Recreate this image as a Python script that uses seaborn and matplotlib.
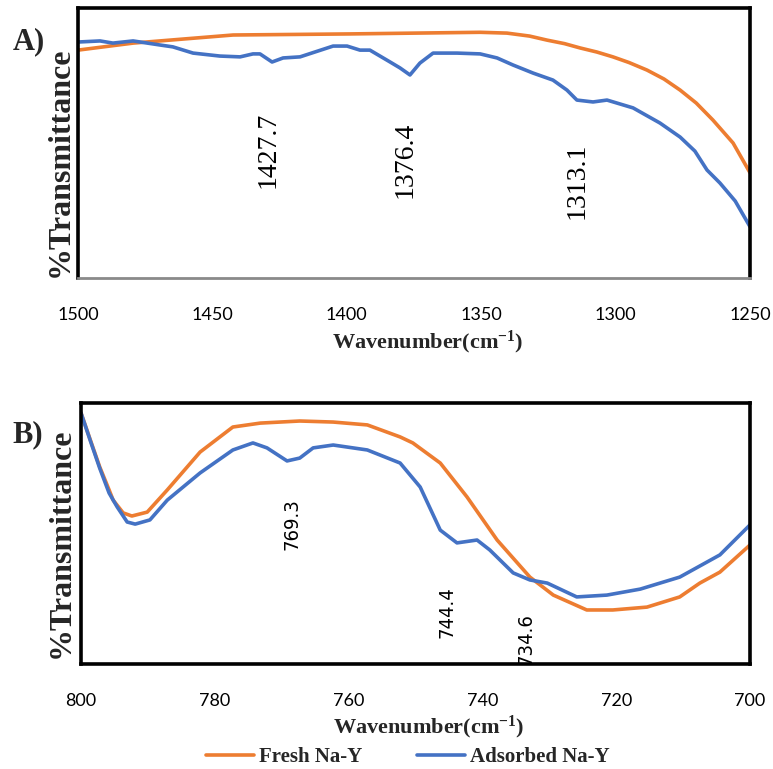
import matplotlib
matplotlib.use("Agg")
import matplotlib.pyplot as plt
from matplotlib import font_manager
import seaborn as sns
import pandas as pd

# ---------------- data ----------------
# Panel A (1500-1250 cm-1)
a_fresh_x = [1500, 1479.5, 1442.3, 1398.8, 1350.4, 1340.4, 1332.0, 1325.5, 1319.0, 1313.2,
             1307.0, 1301.0, 1295.0, 1288.3, 1282.0, 1276.0, 1270.0, 1263.8, 1256.3, 1250.0]
a_fresh_y = [84.4, 87.0, 90.0, 90.4, 91.0, 90.7, 89.6, 88.1, 86.8, 85.2,
             83.7, 81.9, 79.8, 77.0, 73.7, 69.6, 64.8, 58.5, 50.0, 39.0]
a_ads_x = [1500, 1491.8, 1487.0, 1479.5, 1469.5, 1464.7, 1457.2, 1447.2, 1439.7, 1434.9,
           1432.3, 1427.8, 1423.7, 1417.4, 1405.1, 1399.9, 1395.1, 1391.4, 1383.9, 1380.2,
           1376.5, 1372.8, 1367.9, 1359.0, 1350.4, 1344.1, 1338.2, 1330.7, 1323.3, 1318.1,
           1314.4, 1308.4, 1303.2, 1293.5, 1283.5, 1276.0, 1270.5, 1266.0, 1261.2, 1255.5, 1250.0]
a_ads_y = [87.4, 87.8, 87.0, 87.8, 86.3, 85.6, 83.3, 82.2, 81.9, 83.0,
           83.0, 80.0, 81.5, 81.9, 85.9, 85.9, 84.4, 84.4, 80.0, 77.8,
           75.2, 79.6, 83.3, 83.3, 83.0, 81.5, 78.9, 75.9, 73.3, 69.6,
           65.9, 65.2, 65.9, 63.0, 57.4, 52.2, 47.0, 40.0, 35.2, 28.5, 19.0]

# Panel B (800-700 cm-1)
b_fresh_x = [800, 798.6, 797.2, 795.8, 795.2, 793.7, 792.4, 790.1, 787.1, 782.2, 777.3, 773.2,
             767.3, 762.3, 757.2, 752.3, 750.4, 746.3, 742.3, 737.8, 732.9, 729.4, 724.4,
             720.5, 715.4, 710.5, 707.5, 704.5, 700.0]
b_fresh_y = [96.2, 85.8, 75.5, 66.7, 62.8, 57.9, 56.7, 58.2, 66.7, 81.2, 90.8, 92.3,
             93.1, 92.7, 91.6, 87.0, 84.7, 77.0, 64.0, 47.5, 33.3, 26.4, 20.7,
             20.7, 21.8, 25.7, 31.0, 35.2, 45.6]
b_ads_x = [800, 798.6, 797.2, 795.8, 794.6, 793.1, 791.9, 789.7, 787.1, 782.2, 777.3, 774.3,
           772.2, 769.2, 767.3, 765.3, 762.3, 757.2, 752.3, 749.3, 746.3, 743.8, 740.8,
           738.9, 735.4, 732.9, 730.3, 725.9, 721.4, 716.4, 710.5, 704.5, 700.0]
b_ads_y = [96.2, 85.5, 75.0, 65.5, 60.2, 54.4, 53.6, 55.2, 62.8, 73.2, 82.0, 84.7,
           82.8, 77.8, 78.9, 82.8, 83.9, 82.0, 77.0, 67.8, 51.3, 46.4, 47.5,
           43.7, 34.9, 32.2, 31.0, 25.7, 26.4, 28.7, 33.3, 41.8, 53.3]

series_names = ["Fresh Na-Y", "Adsorbed Na-Y"]
colors = {"Fresh Na-Y": "#ED7D31", "Adsorbed Na-Y": "#4472C4"}

a_ticks = [1500, 1450, 1400, 1350, 1300, 1250]
b_ticks = [800, 780, 760, 740, 720, 700]

a_peaks = [("1427.7", 1429.3, 47.4), ("1376.4", 1378.3, 43.7), ("1313.1", 1314.4, 35.9)]
b_peaks = [("769.3", 768.5, 53.6), ("744.4", 745.3, 19.9), ("734.6", 733.5, 9.6)]

# ---------------- style ----------------
sns.set_theme(style="white")
available = {f.name for f in font_manager.fontManager.ttflist}
serif = "Liberation Serif"
narrow = "Liberation Sans Narrow" if "Liberation Sans Narrow" in available else None
tickfont = "Lato" if "Lato" in available else "Liberation Sans"
plt.rcParams["font.family"] = [serif, "DejaVu Serif"]
plt.rcParams["mathtext.fontset"] = "custom"
plt.rcParams["mathtext.rm"] = "Liberation Serif:bold"
plt.rcParams["mathtext.bf"] = "Liberation Serif:bold"
plt.rcParams["mathtext.it"] = "Liberation Serif:bold"


def frame(xs_f, ys_f, xs_a, ys_a):
    return pd.concat([
        pd.DataFrame({"wn": xs_f, "T": ys_f, "sample": series_names[0]}),
        pd.DataFrame({"wn": xs_a, "T": ys_a, "sample": series_names[1]}),
    ], ignore_index=True)


dfA = frame(a_fresh_x, a_fresh_y, a_ads_x, a_ads_y)
dfB = frame(b_fresh_x, b_fresh_y, b_ads_x, b_ads_y)

W, H = 773, 769
fig = plt.figure(figsize=(W / 100, H / 100), dpi=100)
axA = fig.add_axes([78 / W, 1 - 278 / H, (750 - 78) / W, (278 - 8) / H])
axB = fig.add_axes([81 / W, 1 - 664 / H, (750 - 81) / W, (664 - 403) / H])

for ax, df, ticks, lims in [(axA, dfA, a_ticks, (1500, 1250)), (axB, dfB, b_ticks, (800, 700))]:
    sns.lineplot(data=df, x="wn", y="T", hue="sample", palette=colors, hue_order=series_names,
                 estimator=None, linewidth=2.6, ax=ax, legend=False)
    for ln in ax.get_lines():
        ln.set_solid_joinstyle("round")
        ln.set_solid_capstyle("round")
    ax.set_xlim(*lims)
    ax.set_ylim(0, 100)
    ax.set_xticks(ticks)
    ax.set_xticklabels([str(t) for t in ticks], fontfamily=tickfont, fontsize=13, color="black")
    ax.set_yticks([])
    ax.tick_params(axis="x", length=0, pad=21)
    for s in ax.spines.values():
        s.set_color("black")
        s.set_linewidth(2.6)
        s.set_visible(True)
    ax.set_xlabel(r"Wavenumber(cm$^{\mathbf{-1}}$)", fontsize=16, fontweight="bold", fontfamily=serif)
    ax.set_ylabel("%Transmittance", fontsize=23, fontweight="bold", fontfamily=serif)
    ax.xaxis.label.set_va("center")
    ax.yaxis.label.set_va("center")

axA.spines["bottom"].set_color("#8a8a8a")
axA.spines["bottom"].set_linewidth(2.0)

axA.xaxis.set_label_coords(0.52, (278 - 342) / 270)
axB.xaxis.set_label_coords(0.52, (664 - 727) / 261)
axA.yaxis.set_label_coords((60 - 78) / 672, (278 - 162) / 270)
axB.yaxis.set_label_coords((61 - 81) / 669, (664 - 543) / 261)

for lbl, x, y in a_peaks:
    axA.text(x, y, lbl, rotation=90, ha="center", va="center", fontsize=20,
             fontfamily=serif, color="black")
for lbl, x, y in b_peaks:
    if narrow:
        kw = dict(fontfamily=narrow, fontsize=18)
    else:
        kw = dict(fontfamily="DejaVu Sans", fontsize=14.5, fontstretch="condensed")
    axB.text(x, y, lbl, rotation=90, ha="center", va="center", color="black",
             clip_on=True, **kw)

fig.text(29 / W, 1 - 42 / H, "A)", fontsize=22, fontweight="bold", fontfamily=serif,
         ha="center", va="center")
fig.text(28 / W, 1 - 435 / H, "B)", fontsize=22, fontweight="bold", fontfamily=serif,
         ha="center", va="center")

handles = axB.get_lines()[:2]
leg = fig.legend(handles, series_names, loc="center", bbox_to_anchor=(408 / W, 1 - 757 / H),
                 ncol=2, frameon=False, handlelength=2.3, handletextpad=0.25,
                 columnspacing=2.6, prop={"family": serif, "weight": "bold", "size": 15})

fig.savefig("out.png", dpi=100)
